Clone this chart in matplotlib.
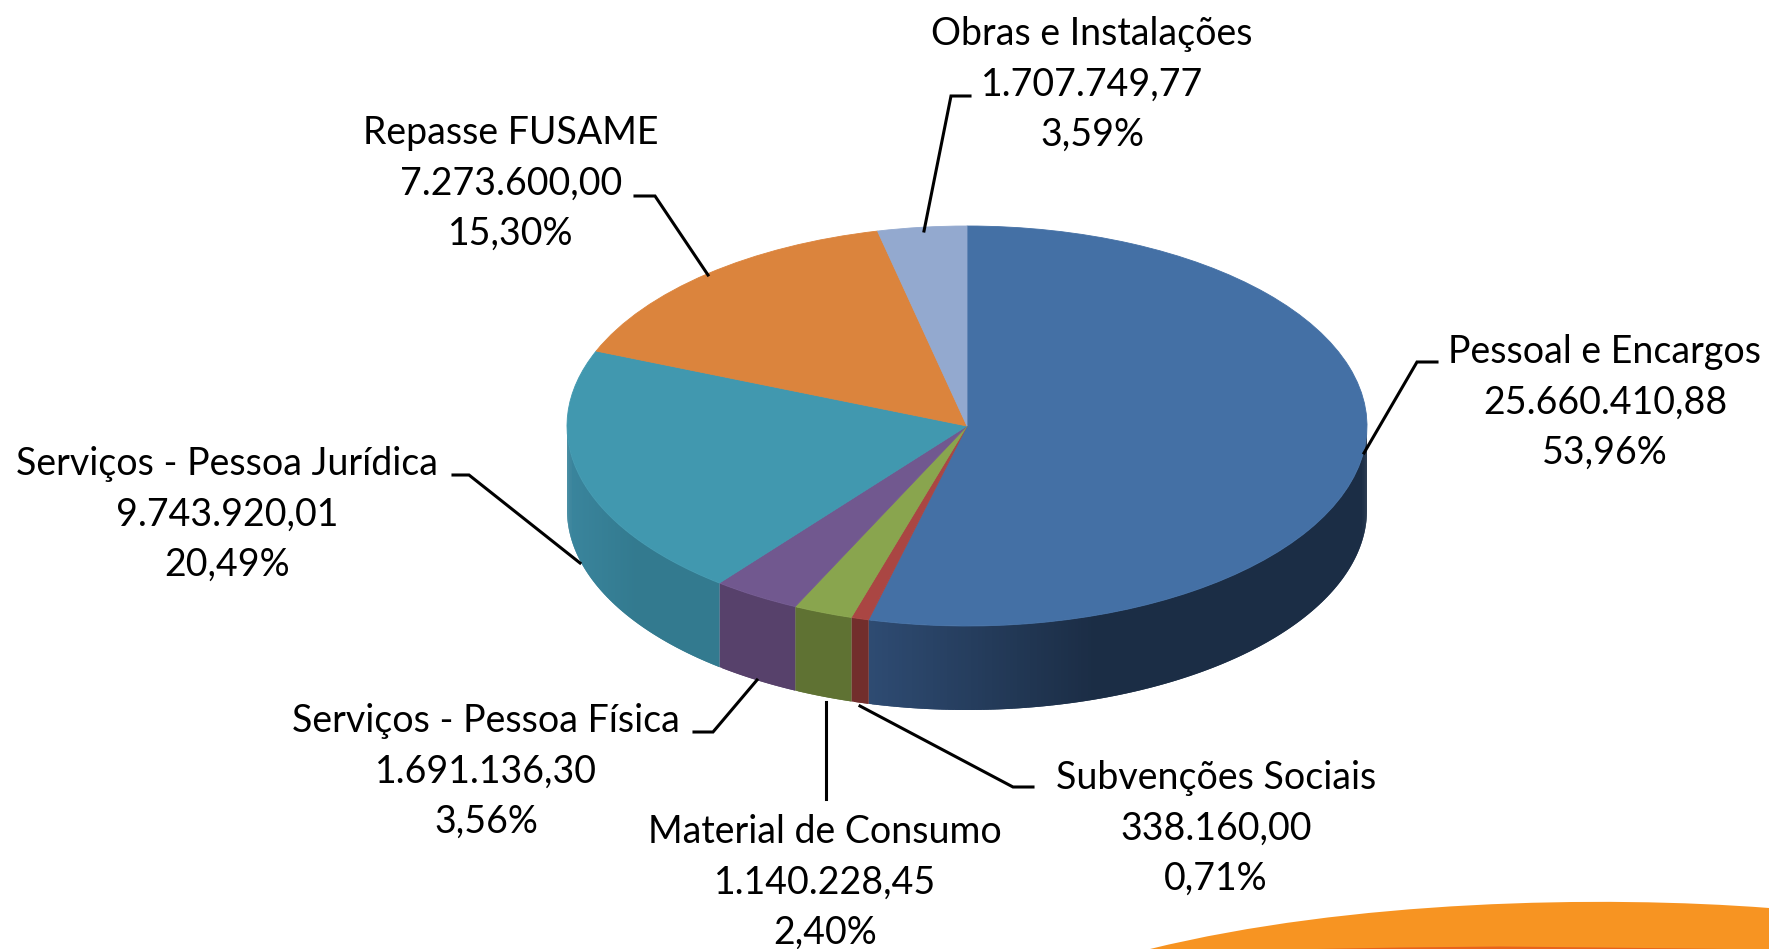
# -*- coding: utf-8 -*-
"""Pizza 3D de despesas por categoria."""
import matplotlib
matplotlib.use("Agg")
import matplotlib.pyplot as plt
from matplotlib.colors import to_rgb
from matplotlib.patches import PathPatch
from matplotlib.path import Path
import numpy as np

W, H = 1769, 949
CX, CY, RX, RY = 967, 426, 400, 200   # elipse do topo, em pixels
DEPTH = 84 / RY

names = ["Pessoal e Encargos", "Subvenções Sociais", "Material de Consumo",
         "Serviços - Pessoa Física", "Serviços - Pessoa Jurídica",
         "Repasse FUSAME", "Obras e Instalações"]
values = [25660410.88, 338160.00, 1140228.45, 1691136.30,
          9743920.01, 7273600.00, 1707749.77]
value_labels = ["25.660.410,88", "338.160,00", "1.140.228,45", "1.691.136,30",
                "9.743.920,01", "7.273.600,00", "1.707.749,77"]
pct_labels = ["53,96%", "0,71%", "2,40%", "3,56%", "20,49%", "15,30%", "3,59%"]

top_colors = ["#4470A5", "#AA4643", "#89A54E", "#71588F", "#4198AF", "#DB843D", "#93A9CF"]
side_left = ["#2E4B72", "#722E2C", "#5F7233", "#57416B", "#3A859D", "#DB843D", "#93A9CF"]
side_right = ["#1B2D45", "#722E2C", "#5F7233", "#57416B", "#337A8F", "#DB843D", "#93A9CF"]

# centro do rotulo (x, y da primeira linha) e linha de chamada, em pixels
label_x = [1605, 1216, 825, 486, 227, 511, 1092]
label_y = [352, 778, 832, 721, 464, 133, 34]
leaders = [
    [(1437, 362), (1417, 362), (1364, 453)],
    [(1033, 787), (1013, 787), (860, 706)],
    [(826, 799), (826, 702)],
    [(694, 732), (713, 732), (757, 680)],
    [(453, 475), (469, 475), (580, 563)],
    [(635, 196), (655, 196), (708, 275)],
    [(970, 96), (951, 96), (924, 231)],
]

plt.rcParams["font.family"] = ["Lato", "DejaVu Sans"]
fig = plt.figure(figsize=(W / 100, H / 100), dpi=100, facecolor="white")

# eixo da pizza: 1 unidade = RX na horizontal e RY na vertical
ax = fig.add_axes([0, 0, 1, 1], zorder=1)
ax.pie(values, colors=top_colors, startangle=90, counterclock=False,
       wedgeprops={"linewidth": 0.6, "zorder": 3})
for w, c in zip(ax.patches, top_colors):
    w.set_edgecolor(c)
ax.set_aspect("auto")
ax.set_xlim(-CX / RX, (W - CX) / RX)
ax.set_ylim(-(H - CY) / RY, CY / RY)
ax.axis("off")

# parede lateral, so a metade de baixo aparece
edges = 90 - 360 * np.cumsum([0] + values) / sum(values)
for i in range(len(values)):
    a0, a1 = edges[i + 1] % 360, edges[i] % 360
    if a1 <= a0:
        a1 += 360
    lo, hi = max(a0, 180), min(a1, 360)
    if hi <= lo:
        continue
    th = np.radians(np.linspace(lo, hi, int((hi - lo) * 2) + 2))
    x = np.cos(th)
    y = np.sin(th)
    c0, c1 = np.array(to_rgb(side_left[i])), np.array(to_rgb(side_right[i]))
    for k in range(len(th) - 1):
        t = np.clip((x[k] - x.min()) / (x.max() - x.min() + 1e-9) / 0.45, 0, 1)
        col = c0 + (c1 - c0) * t
        # segue ate a emenda seguinte para nao deixar listras de antialias
        k2 = min(k + 2, len(th) - 1)
        ax.fill([x[k], x[k2], x[k2], x[k]],
                [y[k], y[k2], y[k2] - DEPTH, y[k] - DEPTH],
                color=col, linewidth=0, zorder=1 + i * 0.01)

# overlay em pixels: textos, chamadas e a faixa laranja do slide
ov = fig.add_axes([0, 0, 1, 1], zorder=2)
ov.set_xlim(0, W)
ov.set_ylim(H, 0)
ov.axis("off")
ov.patch.set_alpha(0)

swoosh = Path([(1150, 949), (1350, 900), (1600, 895), (1769, 908), (1769, 949), (1150, 949)],
              [Path.MOVETO, Path.CURVE4, Path.CURVE4, Path.CURVE4, Path.LINETO, Path.CLOSEPOLY])
ov.add_patch(PathPatch(swoosh, facecolor="#F79422", edgecolor="none"))
ov.fill_between([1290, 1400, 1500, 1600, 1769], [949, 947, 946, 947, 949], H,
                color="#E8641B", linewidth=0)

for pts in leaders:
    ov.plot(*zip(*pts), color="black", lw=2.2, solid_joinstyle="miter")

for i in range(len(names)):
    for j, s in enumerate([names[i], value_labels[i], pct_labels[i]]):
        ov.text(label_x[i], label_y[i] + j * 50.5, s, ha="center", va="center",
                fontsize=27, color="black")

fig.savefig("out.png", dpi=100)
